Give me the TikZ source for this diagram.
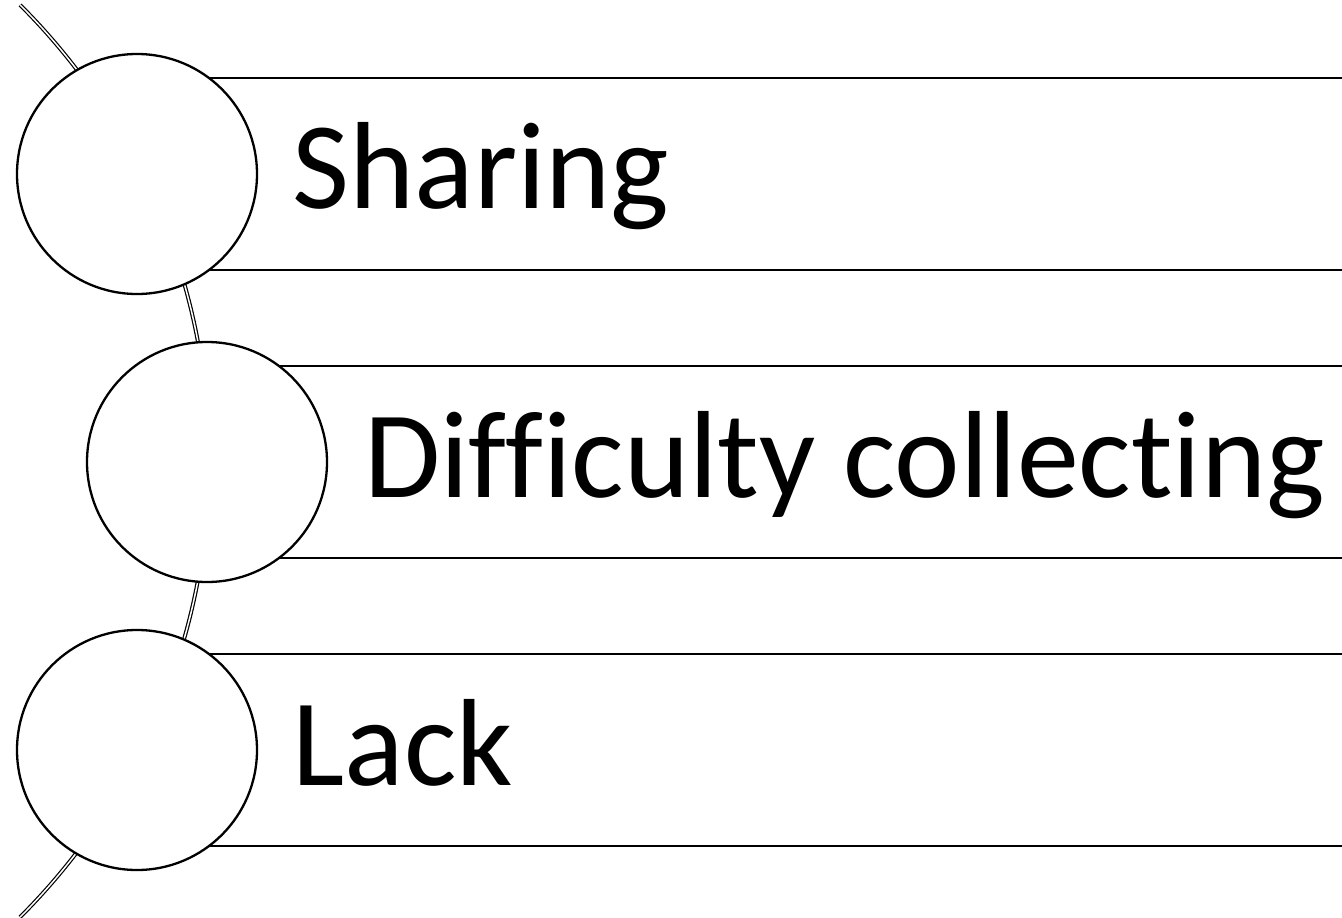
\documentclass[tikz,border=0pt]{standalone}
\usepackage{fontspec}
\setmainfont{Carlito}[Ligatures=NoCommon]
\begin{document}
\begin{tikzpicture}[x=1pt,y=1pt,
  bubble/.style={circle,draw=black,fill=white,line width=2.3pt,minimum size=240pt,inner sep=0pt},
  band/.style={draw=black,line width=2.8pt},
  label/.style={anchor=base west,inner sep=0pt,font=\fontsize{124}{150}\selectfont},
  spine/.style={draw=black,line width=1.2pt,double=white,double distance=1.5pt}]
\useasboundingbox (0,0) rectangle (1342,-918);
% spine arc
\coordinate (ac) at (-436,-461);
\draw[spine] (ac) ++(45:645) arc[start angle=45,end angle=-45,radius=645];
% band lines
\coordinate (b1t) at (137,-78);  \coordinate (b1b) at (137,-270);
\coordinate (b2t) at (207,-366); \coordinate (b2b) at (207,-558);
\coordinate (b3t) at (137,-654); \coordinate (b3b) at (137,-846);
\draw[band] (b1t) -- (1342,-78);
\draw[band] (b1b) -- (1342,-270);
\draw[band] (b2t) -- (1342,-366);
\draw[band] (b2b) -- (1342,-558);
\draw[band] (b3t) -- (1342,-654);
\draw[band] (b3b) -- (1342,-846);
% circles
\node[bubble] (c1) at (137,-174) {};
\node[bubble] (c2) at (207,-462) {};
\node[bubble] (c3) at (137,-750) {};
% labels
\node[label] (t1) at (292.5,-208) {Sharing};
\node[label] (t2) at (364,-497) {Difficulty collecting};
\node[label] (t3) at (292.5,-785) {Lack};
\end{tikzpicture}
\end{document}
